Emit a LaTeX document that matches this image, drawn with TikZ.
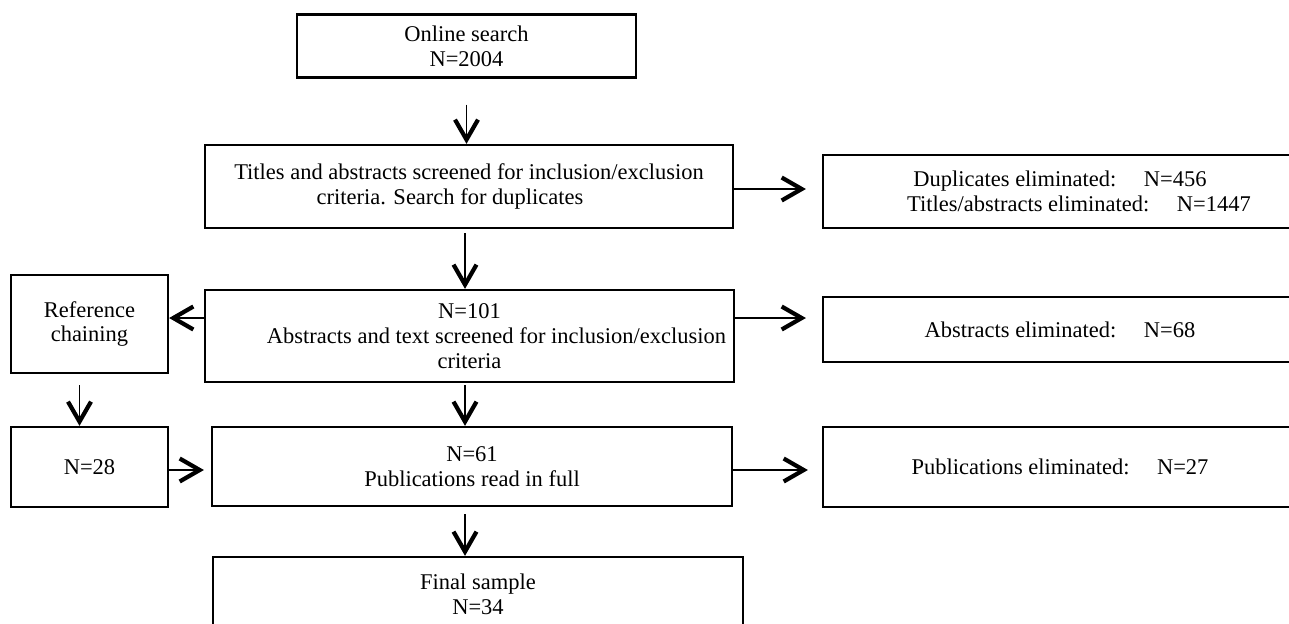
\documentclass[tikz,border=0pt]{standalone}
\usepackage{fontspec}
\setmainfont{Liberation Serif}
\usetikzlibrary{arrows.meta,positioning}

\begin{document}
\begin{tikzpicture}[x=0.02cm,y=-0.02cm,
  box/.style={draw,line width=1.3pt,align=center,inner sep=0pt,font=\fontsize{12.8}{14.2}\selectfont},
  side/.style={box,minimum width=9.48cm},
  arr/.style={-{Straight Barb[length=0.4cm,width=0.46cm,line width=2.4pt]},line width=0.9pt}]
\useasboundingbox (0,0) rectangle (1289,623);
\clip (0,0) rectangle (1289,623);
\node[box,minimum width=6.78cm,minimum height=1.26cm] (os) at (466.5,46) {Online search\\N=2004};
\node[box,minimum width=10.56cm,minimum height=1.66cm] (ta) at (469,186.5) {Titles and abstracts screened for inclusion/exclusion\\criteria. Search for duplicates\rule{0.76cm}{0pt}};
\node[side,minimum height=1.46cm] (dup) at (1060,191.5) {Duplicates eliminated:\hspace{0.55cm}N=456\\\hspace*{0.76cm}Titles/abstracts eliminated:\hspace{0.55cm}N=1447};
\node[box,minimum width=3.14cm,minimum height=1.96cm] (rc) at (89.5,324) {Reference\\chaining};
\node[box,minimum width=10.58cm,minimum height=1.84cm] (n101) at (469.5,336) {N=101\\\hspace*{1.08cm}Abstracts and text screened for inclusion/exclusion\\criteria};
\node[side,minimum height=1.3cm] (abs) at (1060,329.5) {Abstracts eliminated:\hspace{0.55cm}N=68};
\node[box,minimum width=3.14cm,minimum height=1.6cm] (n28) at (89.5,467) {N=28};
\node[box,minimum width=10.4cm,minimum height=1.58cm] (n61) at (472,466.5) {N=61\\Publications read in full};
\node[side,minimum height=1.6cm] (pub) at (1060,467) {Publications eliminated:\hspace{0.55cm}N=27};
\node[box,minimum width=10.6cm,minimum height=1.5cm] (fin) at (478,594.5) {Final sample\\N=34};
% main column
\draw[arr,shorten <=0.52cm] (os.south) -- (os.south |- ta.north);
\draw[arr,shorten <=0.08cm] ([xshift=-0.08cm]ta.south) -- ([xshift=-0.08cm]ta.south |- n101.north);
\draw[arr,shorten <=0.04cm] ([xshift=-0.09cm]n101.south) -- ([xshift=-0.09cm]n101.south |- n61.north);
\draw[arr,shorten <=0.14cm] ([xshift=-0.14cm]n61.south) -- ([xshift=-0.14cm]n61.south |- fin.north);
% eliminated
\draw[arr,shorten >=0.32cm] ([yshift=-0.05cm]ta.east) -- ([yshift=-0.05cm]ta.east -| dup.west);
\draw[arr,shorten >=0.32cm] ([yshift=0.36cm]n101.east) -- ([yshift=0.36cm]n101.east -| abs.west);
\draw[arr,shorten >=0.28cm] ([yshift=-0.07cm]n61.east) -- ([yshift=-0.07cm]n61.east -| pub.west);
% reference chaining
\draw[arr] ([yshift=0.36cm]n101.west) -- ([yshift=0.36cm]n101.west -| rc.east);
\draw[arr,shorten <=0.22cm] ([xshift=-0.2cm]rc.south) -- ([xshift=-0.2cm]rc.south |- n28.north);
\draw[arr,shorten >=0.14cm] ([yshift=-0.06cm]n28.east) -- ([yshift=-0.06cm]n28.east -| n61.west);
\end{tikzpicture}
\end{document}
